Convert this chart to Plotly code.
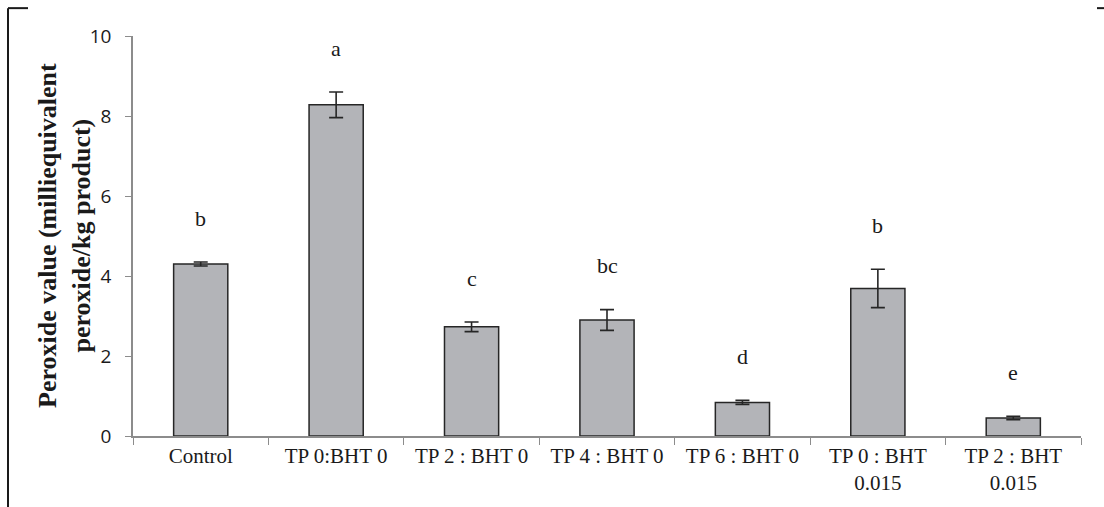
import plotly.graph_objects as go

categories = ["Control", "TP 0:BHT 0", "TP 2 : BHT 0", "TP 4 : BHT 0",
              "TP 6 : BHT 0", "TP 0 : BHT<br>0.015", "TP 2 : BHT<br>0.015"]
values = [4.30, 8.28, 2.73, 2.90, 0.84, 3.69, 0.45]
errors = [0.05, 0.32, 0.12, 0.26, 0.05, 0.48, 0.04]
letters = ["b", "a", "c", "bc", "d", "b", "e"]
y_ticks = [0, 2, 4, 6, 8, 10]
y_title = "<b>Peroxide value (milliequivalent<br>peroxide/kg product)</b>"

W, H = 1104, 507
L, R, T, B = 133, 23, 36, 69
pw, ph = W - L - R, H - T - B

fig = go.Figure()
fig.add_trace(go.Bar(
    x=categories, y=values,
    marker=dict(color="#b3b4b8", line=dict(color="#262626", width=1.5)),
    width=0.40,
    error_y=dict(type="data", array=errors, visible=True,
                 color="#262626", thickness=1.6, width=7),
    showlegend=False,
))

for c, v, e, t in zip(categories, values, errors, letters):
    fig.add_annotation(x=c, y=v + e + 1.1, text=t, showarrow=False,
                       font=dict(family="Liberation Serif", size=22, color="#1a1a1a"),
                       xref="x", yref="y")

def px_x(X):
    return (X - L) / pw

def px_y(Y):
    return (H - B - Y) / ph

fig.add_annotation(x=px_x(64), y=px_y(237), xref="paper", yref="paper",
                   text=y_title, textangle=-90, showarrow=False,
                   xanchor="center", yanchor="middle",
                   font=dict(family="Liberation Serif", size=26, color="#1a1a1a"))

frame = dict(color="#1a1a1a", width=2)
fig.add_shape(type="line", xref="paper", yref="paper",
              x0=px_x(8), y0=px_y(8), x1=px_x(28), y1=px_y(8), line=frame)
fig.add_shape(type="line", xref="paper", yref="paper",
              x0=px_x(8), y0=px_y(8), x1=px_x(8), y1=px_y(510), line=frame)
fig.add_shape(type="line", xref="paper", yref="paper",
              x0=px_x(1097), y0=px_y(8), x1=px_x(1106), y1=px_y(8), line=frame)

fig.update_layout(
    width=W, height=H,
    margin=dict(l=L, r=R, t=T, b=B),
    paper_bgcolor="white", plot_bgcolor="white",
    xaxis=dict(
        showline=True, linecolor="#8c8c8c", linewidth=1.5,
        ticks="outside", tickson="boundaries", ticklen=7, tickcolor="#8c8c8c",
        tickfont=dict(family="Liberation Serif", size=21, color="#1a1a1a"),
        showgrid=False, zeroline=False,
    ),
    yaxis=dict(
        range=[0, 10], tickvals=y_ticks,
        showline=True, linecolor="#8c8c8c", linewidth=1.5,
        ticks="outside", ticklen=6, tickcolor="#8c8c8c",
        ticklabelstandoff=10,
        tickfont=dict(family="Open Sans", size=19, color="#1a1a1a"),
        showgrid=False, zeroline=False,
    ),
)

fig.write_html("out.html",
               config={"displayModeBar": False},
               post_script="document.body.style.margin='0';document.body.style.overflow='hidden';")
